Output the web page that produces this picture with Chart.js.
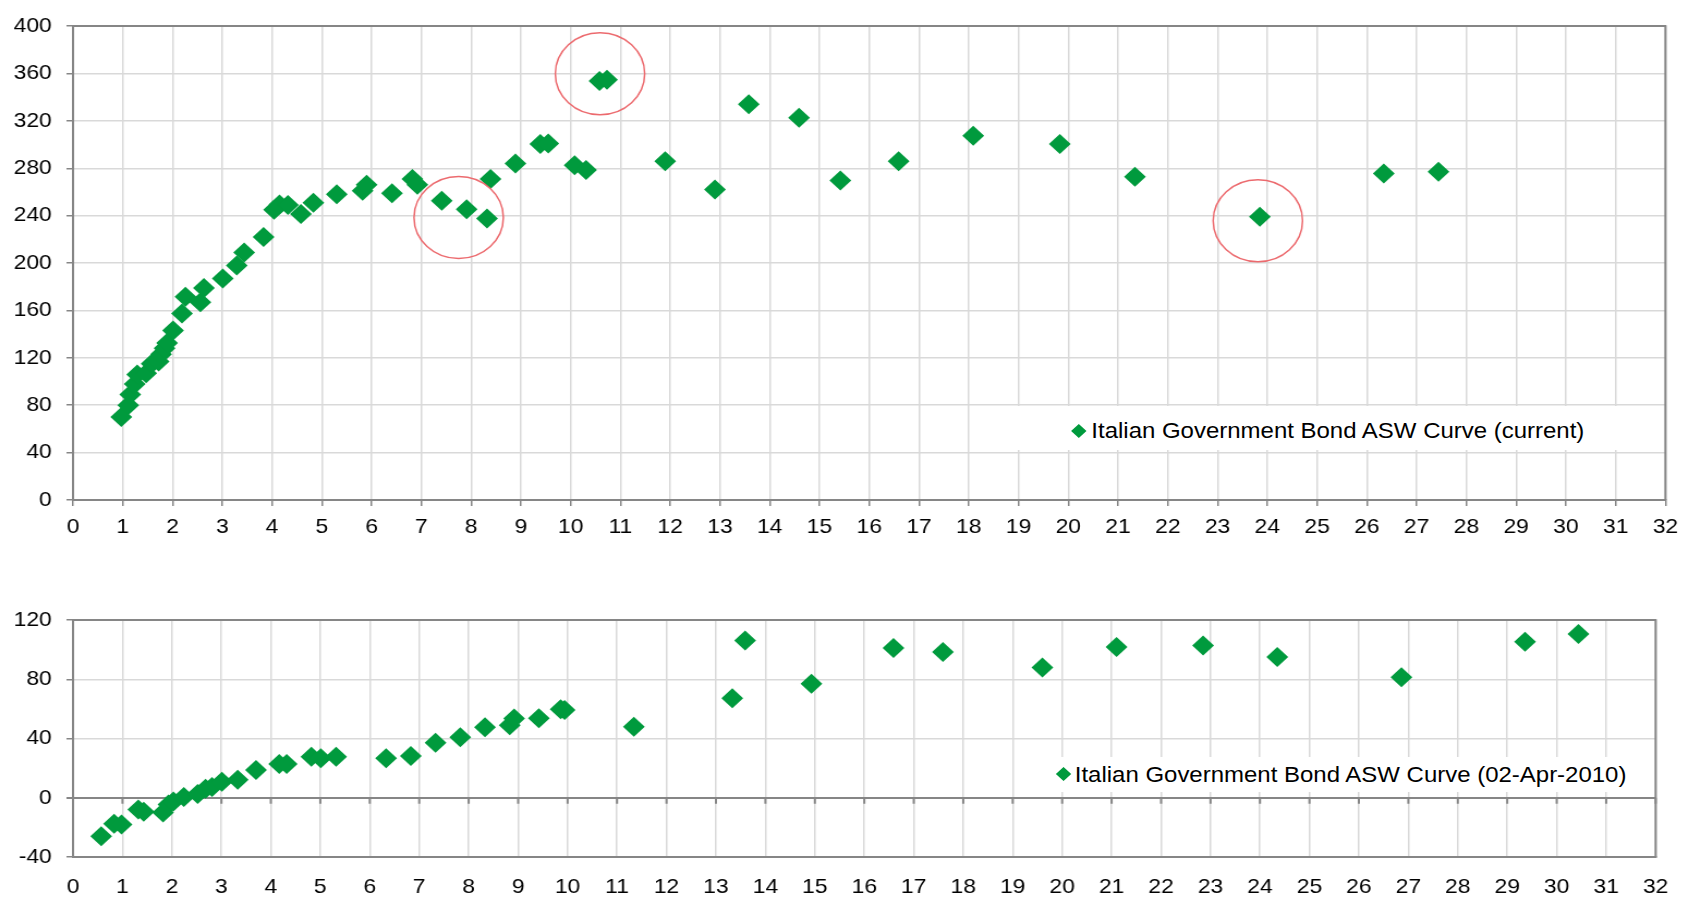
<!DOCTYPE html>
<html>
<head>
<meta charset="utf-8">
<title>Italian Government Bond ASW Curve</title>
<script src="https://cdn.jsdelivr.net/npm/chart.js@4.4.0/dist/chart.umd.min.js"></script>
<style>
  html, body { margin: 0; padding: 0; background: #fff; overflow: hidden; }
  .wrap { position: absolute; left: 0; transform-origin: 0 0; transform: scaleX(1.0897); }
  .legend { position: absolute; background: #fff; font-family: "Liberation Sans", Arial, sans-serif;
            font-size: 22px; line-height: 22px; color: #000; white-space: nowrap; }
  .legend .mark { position: absolute; width: 10px; height: 10px; background: #009a3d; transform: rotate(45deg); }
  .legend .txt { position: absolute; }
</style>
</head>
<body>

<div class="wrap" style="top:0;width:1549px;height:548px">
  <canvas id="chartTop" width="1549" height="548"></canvas>
  <div class="legend" style="left:928px;top:406px;width:577px;height:44px">
    <div class="mark" style="left:56.6px;top:19.7px"></div>
    <div class="txt" style="left:73.5px;top:13.7px">Italian Government Bond ASW Curve (current)</div>
  </div>
</div>

<div class="wrap" style="top:590px;width:1549px;height:307px">
  <canvas id="chartBottom" width="1549" height="307"></canvas>
  <div class="legend" style="left:963px;top:167px;width:542px;height:34px">
    <div class="mark" style="left:7.9px;top:12.3px"></div>
    <div class="txt" style="left:23.3px;top:6.7px">Italian Government Bond ASW Curve (02-Apr-2010)</div>
  </div>
</div>

<script>
// current curve (top)
var topX = [0.97, 1.11, 1.15, 1.24, 1.29, 1.47, 1.58, 1.72, 1.77, 1.84, 1.89, 2.01, 2.19, 2.26, 2.56, 2.63,
  3.01, 3.29, 3.44, 3.83, 4.04, 4.15, 4.32, 4.58, 4.83, 5.30, 5.82, 5.90, 6.41, 6.82, 6.92, 7.41, 7.91,
  8.32, 8.39, 8.89, 9.39, 9.55, 10.08, 10.31, 10.58, 10.73, 11.90, 12.90, 13.58, 14.59, 15.42, 16.59,
  18.09, 19.83, 21.34, 23.85, 26.34, 27.44];
var topY = [70, 80, 89, 98, 106, 107, 115, 117, 123, 128, 132.5, 143, 157.5, 171.5, 167, 179,
  187, 198, 209, 222, 245, 249.5, 249, 241.5, 251, 258, 261, 266, 259, 271, 266, 252.5, 245.5,
  237.7, 271, 284, 300.5, 301, 282.5, 278.5, 353.7, 354.8, 286, 262, 334, 322.7, 269.7, 286,
  307.4, 300.4, 272.8, 239, 275.6, 277];

// red circles drawn round the outliers
var circleX = [7.75, 10.59, 23.81];
var circleY = [238.5, 359.8, 235.7];

// curve on 02-Apr-2010 (bottom)
var botX = [0.57, 0.83, 0.98, 1.32, 1.43, 1.82, 1.93, 2.03, 2.24, 2.52, 2.68, 2.81, 3.01, 3.33, 3.70,
  4.17, 4.32, 4.82, 5.01, 5.32, 6.33, 6.83, 7.33, 7.83, 8.33, 8.83, 8.92, 9.42, 9.86, 9.94,
  11.34, 13.33, 13.59, 14.93, 16.59, 17.59, 19.60, 21.10, 22.85, 24.35, 26.86, 29.36, 30.44];
var botY = [-26, -17.5, -18, -8, -9.5, -10, -4.5, -2.5, 0.5, 2.5, 6, 7.2, 10.8, 12.2, 18.7,
  22.8, 22.8, 27.7, 26.6, 27.7, 26.6, 28.2, 37.2, 40.8, 47.6, 49, 53.5, 53.7, 59.8, 59.3,
  48, 67.2, 106.2, 76.9, 101.1, 98.4, 88, 101.7, 102.8, 95, 81.4, 105.3, 110.5];

var xRange = [0, 32, 1];
var topYRange = [0, 400, 40];
var botYRange = [-40, 120, 40];

var green = "#009a3d";
var axisGray = "#868686";
var gridGray = "#d9d9d9";
var tickFont = { family: "Liberation Sans", size: 21 };

function pts(xs, ys) {
  return xs.map(function (x, i) { return { x: x, y: ys[i] }; });
}

// top and right edge of the plot box
var frame = {
  id: "frame",
  beforeDatasetsDraw: function (chart) {
    var a = chart.chartArea, c = chart.ctx;
    c.save();
    c.strokeStyle = axisGray;
    c.lineWidth = 2;
    c.beginPath();
    c.moveTo(a.left, a.top);
    c.lineTo(a.right, a.top);
    c.lineTo(a.right, a.bottom);
    c.stroke();
    c.restore();
  }
};

// small tick marks hanging under the zero line
var zeroTicks = {
  id: "zeroTicks",
  beforeDatasetsDraw: function (chart) {
    var xs = chart.scales.x, y0 = chart.scales.y.getPixelForValue(0), c = chart.ctx;
    c.save();
    c.strokeStyle = axisGray;
    c.lineWidth = 2;
    xs.ticks.forEach(function (t) {
      var px = xs.getPixelForValue(t.value);
      c.beginPath();
      c.moveTo(px, y0);
      c.lineTo(px, y0 + 6);
      c.stroke();
    });
    c.restore();
  }
};

function diamonds(data) {
  return {
    data: data,
    pointStyle: "rectRot",
    pointRadius: 10,
    pointHoverRadius: 10,
    pointBackgroundColor: green,
    pointBorderColor: green,
    pointBorderWidth: 0
  };
}

var chartTop = new Chart(document.getElementById("chartTop"), {
  type: "scatter",
  data: {
    datasets: [
      {
        data: pts(circleX, circleY),
        pointStyle: "circle",
        pointRadius: 41,
        pointHoverRadius: 41,
        pointBackgroundColor: "rgba(0,0,0,0)",
        pointBorderColor: "#ec6a6e",
        pointBorderWidth: 1.5
      },
      diamonds(pts(topX, topY))
    ]
  },
  options: {
    responsive: false,
    animation: false,
    devicePixelRatio: 1,
    layout: { autoPadding: false, padding: { top: 22, right: 15.6, left: 0, bottom: 0 } },
    plugins: { legend: { display: false }, tooltip: { enabled: false } },
    scales: {
      x: {
        type: "linear", min: xRange[0], max: xRange[1],
        afterFit: function (s) { s.height = 48; },
        ticks: { stepSize: xRange[2], autoSkip: false, maxRotation: 0, padding: 9, color: "#000", font: tickFont },
        grid: { color: gridGray, lineWidth: 1.5, tickColor: axisGray, tickLength: 6 },
        border: { color: axisGray, width: 2 }
      },
      y: {
        min: topYRange[0], max: topYRange[1],
        afterFit: function (s) { s.width = 67; },
        ticks: { stepSize: topYRange[2], padding: 13.5, color: "#000", font: tickFont },
        grid: { color: gridGray, lineWidth: 1.5, tickColor: axisGray, tickLength: 6 },
        border: { color: axisGray, width: 2 }
      }
    }
  },
  plugins: [frame]
});

var chartBottom = new Chart(document.getElementById("chartBottom"), {
  type: "scatter",
  data: { datasets: [diamonds(pts(botX, botY))] },
  options: {
    responsive: false,
    animation: false,
    devicePixelRatio: 1,
    layout: { autoPadding: false, padding: { top: 30, right: 15.6, left: 0, bottom: 0 } },
    plugins: { legend: { display: false }, tooltip: { enabled: false } },
    scales: {
      x: {
        type: "linear", min: xRange[0], max: xRange[1],
        afterFit: function (s) { s.height = 40; },
        ticks: { stepSize: xRange[2], autoSkip: false, maxRotation: 0, padding: 18, color: "#000", font: tickFont },
        grid: { color: gridGray, lineWidth: 1.5, drawTicks: false },
        border: { color: axisGray, width: 2 }
      },
      y: {
        min: botYRange[0], max: botYRange[1],
        afterFit: function (s) { s.width = 67; },
        ticks: { stepSize: botYRange[2], padding: 13.5, color: "#000", font: tickFont },
        grid: {
          color: function (ctx) { return ctx.tick && ctx.tick.value === 0 ? axisGray : gridGray; },
          lineWidth: function (ctx) { return ctx.tick && ctx.tick.value === 0 ? 2 : 1.5; },
          tickColor: axisGray, tickLength: 6
        },
        border: { color: axisGray, width: 2 }
      }
    }
  },
  plugins: [frame, zeroTicks]
});
</script>
</body>
</html>
